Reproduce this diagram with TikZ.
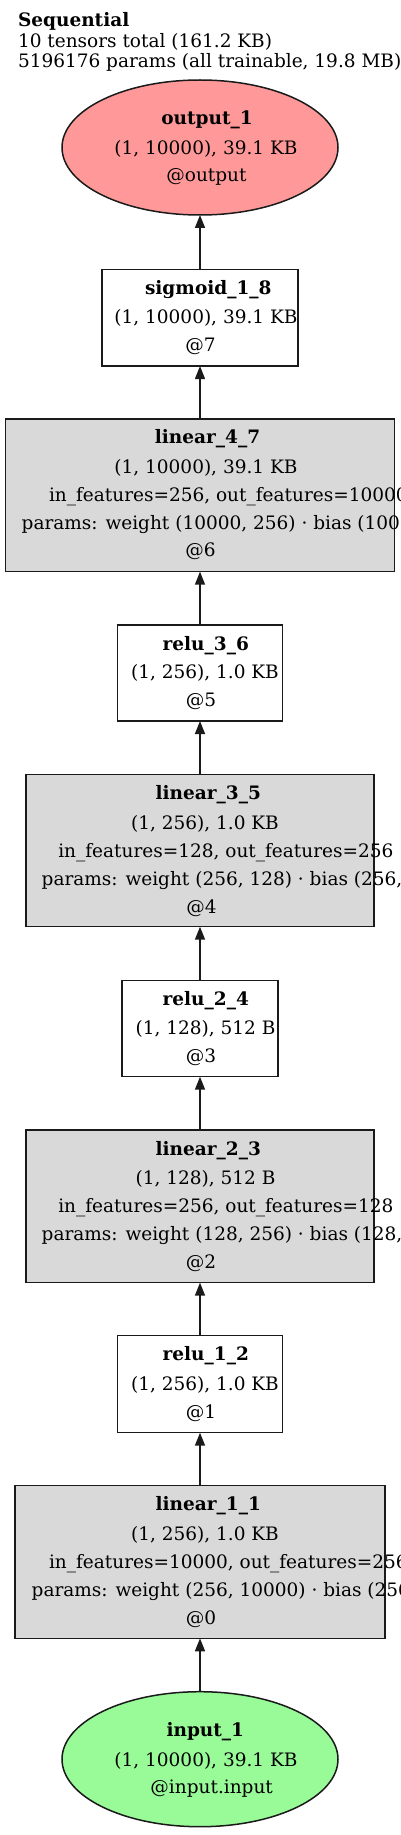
\documentclass[tikz,border=0pt]{standalone}
\usepackage{fontspec}
\setmainfont{DejaVu Serif}
\usetikzlibrary{shapes.geometric,arrows.meta}
\definecolor{outfill}{HTML}{FF9999}
\definecolor{infill}{HTML}{98FB98}
\definecolor{opfill}{HTML}{D9D9D9}
\definecolor{edgecol}{HTML}{1A1A1A}
\tikzset{
 edgeline/.style={line width=1.5pt, draw=edgecol},
 ell/.style={ellipse, edgeline, inner sep=0pt, outer sep=0pt, minimum width=276pt, minimum height=135pt},
 leaf/.style={rectangle, edgeline, fill=white, inner sep=0pt, outer sep=0pt},
 opbox/.style={rectangle, edgeline, fill=opfill, inner sep=0pt, outer sep=0pt},
 lbl/.style={inner sep=0pt, outer sep=0pt, anchor=base, font=\fontsize{18.5}{20}\selectfont},
 lblw/.style={lbl, anchor=base west},
 ttl/.style={lbl, font=\fontsize{18.5}{20}\selectfont\bfseries},
 ttlw/.style={ttl, anchor=base west},
 arr/.style={line width=1.5pt, draw=edgecol, -{Triangle[length=13pt,width=10pt]}},
}
\begin{document}
\begin{tikzpicture}[x=1pt,y=-1pt]
\useasboundingbox (0,0) rectangle (400,1835);
\clip (0,0) rectangle (400,1835);
\fill[white] (0,0) rectangle (400,1835);
% header
\node[ttlw] (h1) at (18,27) {Sequential};
\node[lblw] (h2) at (18,48) {10 tensors total (161.2 KB)};
\node[lblw] (h3) at (18,68) {5196176 params (all trainable, 19.8 MB)};
% output
\node[ell, fill=outfill] (out) at (200,147.5) {};
\node[ttl] (out1) at (207,125) {output\_1};
\node[lbl] (out2) at (206,154.5) {(1, 10000), 39.1 KB};
\node[lbl] (out3) at (206.5,182) {@output};
% sigmoid
\node[leaf, minimum width=196pt, minimum height=96.7pt] (sig) at (200,317.7) {};
\node[ttl] (sig1) at (208.3,294.3) {sigmoid\_1\_8};
\node[lbl] (sig2) at (206,323.3) {(1, 10000), 39.1 KB};
\node[lbl] (sig3) at (200.5,351.7) {@7};
% linear_4_7
\node[opbox, minimum width=389pt, minimum height=152.7pt] (lin4) at (200,495.3) {};
\node[ttl] (lin41) at (207.5,443.3) {linear\_4\_7};
\node[lbl] (lin42) at (206,473.3) {(1, 10000), 39.1 KB};
\node[lblw] (lin43) at (49,501.7) {in\_features=256, out\_features=10000};
\node[lblw] (lin44) at (21.7,529.3) {params: weight (10000, 256) · bias (10000,)};
\node[lbl] (lin45) at (200.5,556.7) {@6};
% relu_3_6
\node[leaf, minimum width=165.4pt, minimum height=96pt] (relu3) at (200,673) {};
\node[ttl] (relu31) at (205.8,650) {relu\_3\_6};
\node[lbl] (relu32) at (205,678.3) {(1, 256), 1.0 KB};
\node[lbl] (relu33) at (201,706.7) {@5};
% linear_3_5
\node[opbox, minimum width=348pt, minimum height=152pt] (lin3) at (200,850.7) {};
\node[ttl] (lin31) at (208.3,799.3) {linear\_3\_5};
\node[lbl] (lin32) at (205,829) {(1, 256), 1.0 KB};
\node[lblw] (lin33) at (58.3,857.3) {in\_features=128, out\_features=256};
\node[lblw] (lin34) at (41.7,885) {params: weight (256, 128) · bias (256,)};
\node[lbl] (lin35) at (201.5,913.3) {@4};
% relu_2_4
\node[leaf, minimum width=156pt, minimum height=96pt] (relu2) at (200,1028.7) {};
\node[ttl] (relu21) at (205.8,1005) {relu\_2\_4};
\node[lbl] (relu22) at (205.5,1034.3) {(1, 128), 512 B};
\node[lbl] (relu23) at (201,1062.3) {@3};
% linear_2_3
\node[opbox, minimum width=348.3pt, minimum height=152.7pt] (lin2) at (200,1206.3) {};
\node[ttl] (lin21) at (208.3,1155) {linear\_2\_3};
\node[lbl] (lin22) at (205.5,1184) {(1, 128), 512 B};
\node[lblw] (lin23) at (58.3,1212.3) {in\_features=256, out\_features=128};
\node[lblw] (lin24) at (41.7,1240) {params: weight (128, 256) · bias (128,)};
\node[lbl] (lin25) at (201,1268.3) {@2};
% relu_1_2
\node[leaf, minimum width=165.4pt, minimum height=97pt] (relu1) at (200,1384.2) {};
\node[ttl] (relu11) at (205.8,1360.7) {relu\_1\_2};
\node[lbl] (relu12) at (205,1390) {(1, 256), 1.0 KB};
\node[lbl] (relu13) at (201,1418.3) {@1};
% linear_1_1
\node[opbox, minimum width=370pt, minimum height=152.6pt] (lin1) at (200,1562) {};
\node[ttl] (lin11) at (208.3,1510.7) {linear\_1\_1};
\node[lbl] (lin12) at (205,1540) {(1, 256), 1.0 KB};
\node[lblw] (lin13) at (49,1568.3) {in\_features=10000, out\_features=256};
\node[lblw] (lin14) at (31.7,1596) {params: weight (256, 10000) · bias (256,)};
\node[lbl] (lin15) at (201,1624) {@0};
% input
\node[ell, fill=infill] (inp) at (200,1759.2) {};
\node[ttl] (inp1) at (205.3,1736.7) {input\_1};
\node[lbl] (inp2) at (206,1766) {(1, 10000), 39.1 KB};
\node[lbl] (inp3) at (211.7,1793.3) {@input.input};
% edges
\draw[arr] (inp.north) -- (lin1.south);
\draw[arr] (lin1.north) -- (relu1.south);
\draw[arr] (relu1.north) -- (lin2.south);
\draw[arr] (lin2.north) -- (relu2.south);
\draw[arr] (relu2.north) -- (lin3.south);
\draw[arr] (lin3.north) -- (relu3.south);
\draw[arr] (relu3.north) -- (lin4.south);
\draw[arr] (lin4.north) -- (sig.south);
\draw[arr] (sig.north) -- (out.south);
\end{tikzpicture}
\end{document}
